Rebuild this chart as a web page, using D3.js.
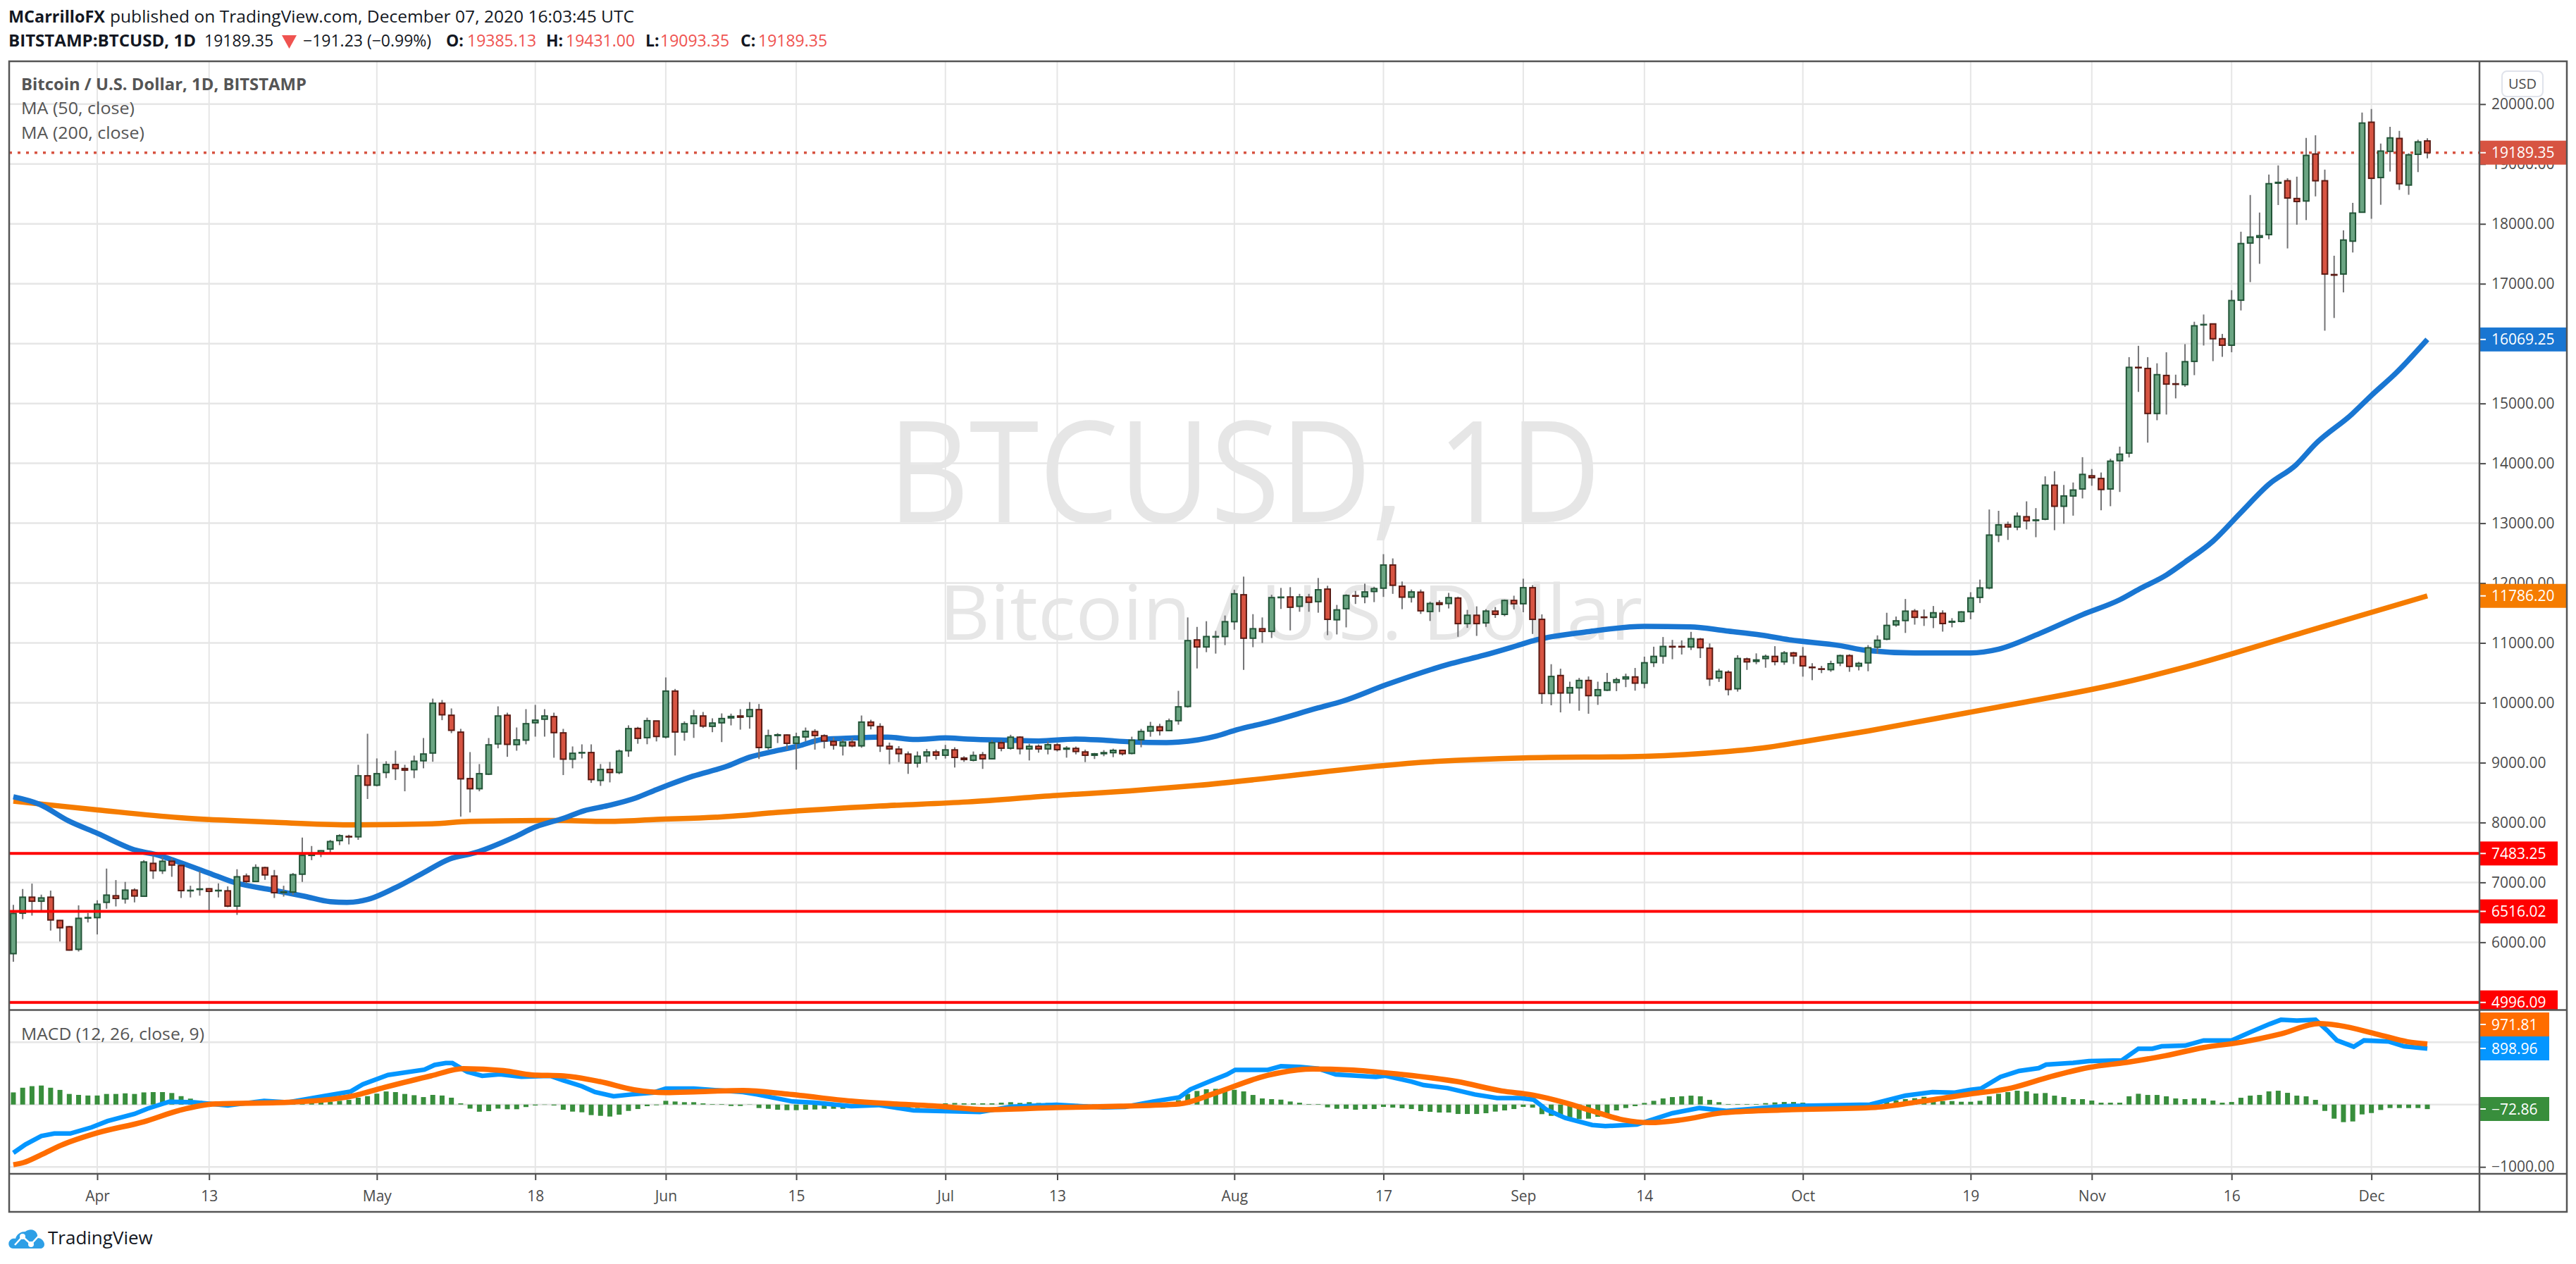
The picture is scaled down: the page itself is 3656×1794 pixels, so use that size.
<!DOCTYPE html>
<html>
<head>
<meta charset="utf-8">
<title>BTCUSD</title>
<script src="https://d3js.org/d3.v7.min.js"></script>
<style>
  html, body { margin: 0; padding: 0; background: #fff; }
  text { font-family: "Open Sans", sans-serif; }
</style>
</head>
<body>
<div id="chart"></div>
<script>
// daily candles, 23 Mar 2020 - 7 Dec 2020
const opens = [
  5810,6486,6753,6686,6753,6365,6259,5882,6405,
  6412,6667,6777,6725,6871,6769,7318,7196,7353,7282,
  6860,6882,6894,6860,6859,6604,7106,7016,7247,7106,
  6831,6839,7137,7451,7498,7557,7698,7768,
  7762,8781,8624,8836,8969,8902,8883,9032,9161,9992,
  9792,9510,8734,8565,8808,9314,9792,9302,9377,9667,
  9726,9769,9498,9059,9165,9169,8703,8887,8836,9200,
  9572,9418,9697,9430,10196,9513,9654,9780,9607,9666,
  9748,9780,9772,9886,9253,9454,9462,9324,9430,9520,
  9450,9355,9281,9344,9281,9678,9603,9273,9226,9143,
  8994,9116,9179,9124,9214,9076,9041,9131,9065,9332,
  9242,9426,9230,9273,9230,9297,9226,9238,9179,9124,
  9151,9167,9206,9155,9383,9528,9599,9536,9701,9939,
  11051,10933,11100,11107,11355,11805,11079,11237,11193,11757,
  11769,11612,11765,11690,11899,11387,11572,11789,11773,11860,
  11915,12302,11947,11765,11848,11525,11670,11659,11750,11323,
  11462,11335,11532,11477,11710,11655,11923,11394,10156,10456,
  10164,10250,10373,10120,10211,10341,10400,10432,10329,10673,
  10779,10941,10941,10933,11063,10913,10416,10511,10235,10732,
  10692,10739,10775,10685,10833,10775,10595,10567,10554,10667,
  10788,10613,10667,10928,11063,11302,11374,11531,11432,11428,
  11495,11347,11360,11522,11761,11919,12802,12977,12937,13108,
  13045,13067,13635,13283,13455,13572,13792,13747,13572,14045,
  14171,15603,15585,14833,15468,15328,15315,15703,16315,16329,
  16081,15973,16725,17680,17775,17820,18680,18720,18423,18382,
  19167,18720,17153,17162,17711,18194,19698,18774,19211,19427,18648,19162,19385.13
];
const highs = [
  6626,6890,6980,6796,6863,6373,6275,6616,6490,
  6702,7231,7039,7008,6902,7372,7451,7431,7412,7302,
  6945,7192,6902,6984,6933,7220,7149,7302,7263,7208,
  6945,7157,7749,7608,7537,7710,7804,7796,
  8965,9483,9071,9024,9200,8965,9118,9412,10070,10047,
  9906,9565,9177,8977,9412,9941,9835,9588,9894,9965,
  9894,9835,9565,9271,9306,9306,8977,9012,9220,9624,
  9599,9752,9700,10424,10232,9690,9882,9847,9741,9823,
  9819,9894,10012,9980,9552,9493,9473,9501,9587,9560,
  9473,9422,9395,9414,9788,9717,9658,9336,9277,9187,
  9187,9230,9218,9297,9257,9108,9187,9179,9375,9375,
  9466,9442,9316,9304,9355,9328,9277,9269,9218,9163,
  9210,9234,9218,9434,9564,9682,9650,9737,10200,11426,
  11268,11363,11201,11458,11888,12108,11481,11426,11805,11919,
  11931,11820,11820,12085,11955,11635,11813,11868,11990,11939,
  12483,12412,12026,11892,11892,11690,11714,11836,11773,11552,
  11611,11564,11600,11726,11789,12073,11966,11477,10645,10570,
  10353,10416,10440,10353,10499,10420,10487,10582,10771,10937,
  11099,11051,11043,11185,11083,10992,10570,10542,10795,10755,
  10826,10806,10946,10865,10851,10932,10662,10617,10703,10806,
  10811,10685,10964,11126,11504,11441,11734,11567,11558,11617,
  11545,11414,11531,11847,12058,13229,13207,13027,13180,13365,
  13252,13783,13869,13639,13680,14103,13905,13847,14076,14279,
  15774,15963,15774,15671,15855,15481,15991,16365,16486,16329,
  16162,16892,17869,18482,18189,18824,18977,18761,18788,19436,
  19481,18905,17468,17892,18351,19860,19918,19342,19621,19553,19180,19405,19431
];
const lows = [
  5674,6388,6447,6530,6196,6012,5860,5846,6330,
  6130,6561,6600,6647,6667,6769,7059,7141,7094,6741,
  6749,6777,6530,6749,6588,6459,6980,7016,7043,6741,
  6765,6792,7008,7372,7423,7498,7623,7635,
  7711,8393,8604,8742,8710,8522,8742,8906,9016,9710,
  9494,8099,8169,8522,8793,9240,9098,9200,9306,9435,
  9435,9083,8793,8906,9071,8663,8612,8671,8808,9098,
  9316,9308,9355,9403,9120,9367,9414,9580,9509,9344,
  9623,9552,9568,9061,9218,9328,9218,8884,9355,9218,
  9238,9218,9120,9257,9249,9556,9179,8974,9010,8813,
  8919,9002,9049,9069,8919,9014,9022,8896,9053,9190,
  9218,9139,9037,9167,9139,9187,9084,9139,9010,9061,
  9108,9092,9120,9139,9257,9434,9454,9524,9634,9919,
  10574,10846,10822,10964,11221,10550,10929,11000,11083,11568,
  11209,11521,11521,11505,11130,11142,11260,11651,11663,11682,
  11769,11820,11564,11675,11485,11367,11517,11576,11103,11252,
  11118,11268,11418,11446,11560,11513,11150,9982,9959,9840,
  9990,9868,9817,9966,10195,10195,10262,10203,10243,10598,
  10654,10728,10807,10882,10748,10282,10349,10124,10187,10550,
  10645,10586,10626,10635,10649,10437,10378,10496,10518,10613,
  10518,10541,10527,10820,11045,11270,11167,11306,11284,11248,
  11189,11261,11342,11396,11667,11896,12684,12721,12883,12896,
  12766,13049,12883,12991,13126,13414,13626,13216,13284,13522,
  14099,15193,14346,14720,14815,15085,15279,15473,15968,15707,
  15779,15856,16554,17027,17333,17743,18315,17590,17986,18063,
  18459,16216,16428,16856,17522,18189,18085,18319,18873,18567,18486,18864,19093.35
];
const closes = [
  6483,6753,6686,6741,6373,6243,5870,6400,6412,
  6635,6788,6733,6871,6773,7341,7196,7353,7290,6863,
  6867,6890,6851,6867,6604,7094,7016,7247,7125,6828,
  6840,7129,7451,7470,7529,7682,7780,7760,
  8781,8624,8816,8969,8902,8875,9024,9145,9992,9800,
  9541,8730,8565,8816,9298,9780,9306,9380,9651,9710,
  9780,9502,9059,9157,9169,8718,8887,8836,9192,9569,
  9407,9701,9438,10196,9513,9650,9780,9611,9662,9737,
  9772,9760,9886,9253,9450,9465,9324,9430,9524,9454,
  9363,9293,9344,9281,9678,9619,9281,9230,9151,8994,
  9108,9179,9124,9214,9088,9053,9120,9065,9332,9242,
  9426,9234,9273,9230,9300,9218,9242,9187,9124,9147,
  9167,9206,9151,9375,9521,9603,9536,9697,9933,11039,
  10933,11107,11107,11355,11820,11079,11237,11193,11757,11765,
  11596,11769,11679,11888,11394,11552,11793,11785,11852,11907,
  12302,11963,11765,11852,11537,11659,11643,11757,11323,11462,
  11323,11532,11477,11710,11655,11923,11394,10156,10440,10164,
  10254,10373,10120,10219,10337,10385,10432,10329,10669,10775,
  10941,10933,10933,11071,10921,10400,10527,10223,10740,10684,
  10716,10775,10689,10833,10784,10617,10590,10563,10653,10788,
  10608,10658,10919,11045,11293,11369,11531,11428,11428,11504,
  11324,11360,11518,11752,11919,12802,12973,12937,13117,13040,
  13054,13635,13283,13455,13554,13815,13761,13563,14036,14153,
  15603,15599,14833,15481,15324,15320,15698,16297,16320,16081,
  15973,16720,17671,17779,17802,18671,18693,18432,18374,19144,
  18720,17162,17144,17730,18180,19684,18761,19216,19436,18671,19153,19369,19189.35
];

// moving averages, read at points along the lines (day = days since 1 Apr)
const ma50Days = [-9,-6.2,-3.1,0,4.2,6.5,8.8,12,14.6,18.9,22.3,25,26.8,29,32,35,37.8,40.5,44.7,47,50,52.2,54.8,57.8,60,61.3,63.9,67.4,70,72.6,75.2,77.8,81.3,83.5,84.8,87.8,91,93.4,97.8,101,105,108,110.8,114.7,116,120.1,122.3,125.3,131,133.6,138.3,145.3,148.8,152.3,154.4,160,166,170.9,174.8,178.6,181.5,187,189.9,195,201,204,208.4,213,217,219.1,222,224,227,230,233,235.9,238,241.9,244,246.7,250];
const ma50Values = [8430,8305,8030,7822,7535,7457,7338,7156,7005,6870,6766,6678,6667,6714,6912,7161,7390,7494,7754,7925,8070,8196,8283,8412,8550,8628,8774,8931,9092,9190,9277,9387,9414,9426,9426,9387,9414,9395,9375,9363,9395,9375,9348,9336,9344,9446,9552,9663,9915,10026,10302,10657,10795,10953,11051,11189,11276,11268,11201,11130,11054,10955,10874,10833,10833,10896,11158,11473,11721,11901,12135,12351,12700,13180,13650,13973,14324,14820,15135,15518,16069.25];
const ma200Days = [-9,0,8.8,18.9,26.9,35.9,40,50,54.4,60,67.4,73,83.9,93.4,102.9,110.8,118,143.5,153,166,174.8,178.6,183,190,197,205.5,217,224,237,250];
const ma200Values = [8357,8212,8082,8004,7962,7978,8019,8035,8019,8051,8098,8169,8275,8345,8452,8530,8620,9020,9079,9106,9185,9244,9350,9530,9730,9973,10324,10595,11190,11786.2];

// MACD pane
const macdDays = [-9,-7.7,-6,-4.6,-2.9,-0.6,1.1,4,5.4,7.7,10.4,14,17.9,20.4,24.3,27.2,28.5,31.2,35.1,36.2,37.4,38.1,39.7,41.3,43.2,45.5,48.6,50,52,53.4,55.4,57.3,59.7,61,64,69.3,70.8,74.6,77,80.9,83.8,87.6,94.7,98.1,102.9,107.9,110.3,113.3,116.1,117.3,119.5,121.2,122.1,125.6,127,129,131,132.9,137.2,138.2,141,142.3,144.9,147.8,150.2,152.7,154.1,155.5,157.5,160.4,161.8,165.2,169,171.9,174.8,181,190.2,194,196.9,199.3,201,202.1,204.2,206.2,208.3,209.1,212,213.7,217.2,219,220.5,221.5,224,226,229,231,233.1,234.3,236,238,239.3,240.3,242.1,243.2,245.9,247.5,250];
const macdValues = [-775,-640,-505,-465,-465,-365,-265,-150,-65,45,35,-15,60,35,135,210,325,475,560,635,665,665,525,460,485,445,460,388,294,200,132,162,192,256,256,200,162,49,30,-26,-8,-94,-120,-34,-4,-45,-38,49,117,245,380,482,557,557,614,603,576,482,444,463,369,312,264,162,105,105,79,-83,-215,-328,-346,-320,-139,-56,-102,-26,0,143,200,192,237,256,444,539,584,641,670,697,708,896,896,934,945,1029,1029,1160,1292,1360,1348,1360,1182,1029,927,1029,1010,934,898.96];
const signalDays = [-9,-7.9,-6,-3.9,0,5,8.9,12.7,20.4,27,30.8,35.8,39.3,43.6,46.7,50,53.9,57.6,61,64.5,69.3,74,80.9,90.9,95.3,102.9,109.8,116.1,119.9,125.6,130.4,134.3,140,145.9,150.7,154,157.5,160.4,163.7,166.6,170,174.4,180.6,190.8,195.6,201,205.4,209.5,213.7,217.8,221.9,226,230.1,234.3,238.4,240.5,244.6,247.9,250];
const signalValues = [-965,-930,-805,-655,-455,-275,-90,10,35,125,275,460,575,545,475,460,369,237,192,207,226,169,56,-34,-83,-49,-26,11,181,470,569,557,482,369,218,154,30,-102,-245,-290,-245,-132,-87,-45,49,170,267,444,595,678,783,915,1001,1133,1299,1269,1129,1007,971.81];
const histValues = [
  195,270,295,305,270,235,170,155,145,145,
  170,170,180,170,195,200,200,185,135,95,60,45,
  35,10,20,15,15,12,5,5,10,20,25,35,45,60,75,
  110,135,175,210,200,170,150,120,155,145,110,20,
  -65,-115,-105,-65,-75,-75,-40,-15,-5,-15,
  -83,-113,-124,-169,-181,-192,-162,-102,-72,-26,-11,
  60,49,38,38,19,8,8,-23,-23,4,
  -56,-68,-83,-90,-90,-83,-79,-68,-68,-68,
  -56,-26,-8,-15,-26,-45,-64,-56,-45,-34,
  20,25,20,20,20,20,30,38,26,38,
  26,26,20,15,10,5,5,5,-5,0,
  10,20,40,20,40,70,170,218,245,252,
  245,237,211,154,98,87,79,49,30,8,
  8,-45,-68,-68,-83,-72,-72,-38,-49,-60,
  -72,-105,-117,-128,-128,-151,-151,-151,-139,-113,
  -94,-72,-38,-49,-154,-181,-207,-222,-233,-226,
  -196,-169,-94,-56,-26,26,60,98,120,132,
  143,132,75,38,8,8,8,8,23,34,
  41,41,30,19,8,8,15,8,8,30,
  45,68,68,87,102,124,87,56,56,45,
  45,60,132,173,200,222,211,177,185,143,
  120,87,87,64,30,30,30,132,173,154,
  154,132,98,87,98,98,64,30,41,109,
  143,154,211,222,188,143,132,75,-102,-226,
  -282,-271,-158,-136,-87,-56,-56,-56,-56,-72.86
];

// axes
const priceTicks = [20000,19000,18000,17000,16000,15000,14000,13000,12000,11000,10000,9000,8000,7000,6000];
const macdTicks = [1000,0,-1000];
const timeTickDays = [0,12,30,47,61,75,91,103,122,138,153,166,183,201,214,229,244];
const timeTickLabels = ["Apr","13","May","18","Jun","15","Jul","13","Aug","17","Sep","14","Oct","19","Nov","16","Dec"];

// horizontal levels drawn by the author
const levels = [7483.25, 6516.02, 4996.09];
const lastPrice = 19189.35;

const width = 3656, height = 1794;
const left = 13, axisX = 3519, right = 3643;
const paneTop = 87, paneBottom = 1433.5, timeY = 1666, bottom = 1720;

const x = d3.scaleLinear().domain([0, 250]).range([138, 3445]);
const y = d3.scaleLinear().domain([20000, 5000]).range([147.8, 147.8 + 15000 * 0.08497]);
const yMacd = d3.scaleLinear().domain([1000, -1000]).range([1479.2, 1656.2]);

const svg = d3.select("#chart").append("svg")
  .attr("width", width).attr("height", height)
  .attr("viewBox", `0 0 ${width} ${height}`)
  .style("display", "block");

const defs = svg.append("defs");
defs.append("clipPath").attr("id", "mainClip").append("rect")
  .attr("x", left).attr("y", paneTop).attr("width", right - left).attr("height", paneBottom - paneTop);
defs.append("clipPath").attr("id", "macdClip").append("rect")
  .attr("x", left).attr("y", paneBottom).attr("width", axisX - left).attr("height", timeY - paneBottom);

// header
const dark = "#131722", red = "#ef5350";
function label(g, px, py, txt, size, color, weight, fitWidth) {
  const t = g.append("text").attr("x", px).attr("y", py).text(txt)
    .style("font-size", size + "px").attr("fill", color).style("font-weight", weight || 400);
  if (fitWidth) t.attr("textLength", fitWidth).attr("lengthAdjust", "spacingAndGlyphs");
  return t;
}
label(svg, 12, 32, "MCarrilloFX", 23, dark, 700, 137);
label(svg, 156, 32, "published on TradingView.com, December 07, 2020 16:03:45 UTC", 23, dark, 400, 744);
label(svg, 12, 66, "BITSTAMP:BTCUSD, 1D", 23, dark, 700, 266);
label(svg, 290, 66, "19189.35", 23, dark);
svg.append("path").attr("d", "M400,50L421,50L410.5,69Z").attr("fill", red);
label(svg, 430, 66, "\u2212191.23 (\u22120.99%)", 23, dark);
label(svg, 633, 66, "O:", 23, dark, 700);
label(svg, 663, 66, "19385.13", 23, red);
label(svg, 775, 66, "H:", 23, dark, 700);
label(svg, 803, 66, "19431.00", 23, red);
label(svg, 916, 66, "L:", 23, dark, 700);
label(svg, 937, 66, "19093.35", 23, red);
label(svg, 1051, 66, "C:", 23, dark, 700);
label(svg, 1076, 66, "19189.35", 23, red);

// watermark
label(svg, 1260, 741, "BTCUSD, 1D", 200, "#e6e6e6", 400, 1012);
label(svg, 1333, 908, "Bitcoin / U.S. Dollar", 108, "#e6e6e6", 400, 998);

// grid
const gridColor = "#e6e6e6";
const main = svg.append("g").attr("clip-path", "url(#mainClip)");
const macdPane = svg.append("g").attr("clip-path", "url(#macdClip)");

[[main, paneTop, paneBottom], [macdPane, paneBottom, timeY]].forEach(([g, y0, y1]) => {
  g.selectAll(".vgrid").data(timeTickDays).enter().append("line")
    .attr("x1", d => x(d)).attr("x2", d => x(d)).attr("y1", y0).attr("y2", y1)
    .attr("stroke", gridColor).attr("stroke-width", 2);
});
main.selectAll(".hgrid").data(priceTicks).enter().append("line")
  .attr("x1", left).attr("x2", axisX).attr("y1", d => y(d)).attr("y2", d => y(d))
  .attr("stroke", gridColor).attr("stroke-width", 2.5);
macdPane.selectAll(".hgrid").data(macdTicks).enter().append("line")
  .attr("x1", left).attr("x2", axisX).attr("y1", d => yMacd(d)).attr("y2", d => yMacd(d))
  .attr("stroke", gridColor).attr("stroke-width", 2.5);

// moving averages sit under the candles
const lineFor = (days, values, yScale, curve) => d3.line()
  .curve(curve)
  .x((d, i) => x(days[i])).y((d, i) => yScale(values[i]))(values);

main.append("path").attr("d", lineFor(ma200Days, ma200Values, y, d3.curveMonotoneX))
  .attr("fill", "none").attr("stroke", "#f57c00").attr("stroke-width", 7.5);
main.append("path").attr("d", lineFor(ma50Days, ma50Values, y, d3.curveMonotoneX))
  .attr("fill", "none").attr("stroke", "#1976d2").attr("stroke-width", 7.5);

// last price dots
main.append("line").attr("x1", left).attr("x2", axisX)
  .attr("y1", y(lastPrice)).attr("y2", y(lastPrice))
  .attr("stroke", "#d75442").attr("stroke-width", 3.5).attr("stroke-dasharray", "4 8");

// candles
const candles = main.selectAll(".candle").data(closes).enter().append("g");
const dayOf = i => i - 9;
candles.append("line")
  .attr("x1", (d, i) => x(dayOf(i))).attr("x2", (d, i) => x(dayOf(i)))
  .attr("y1", (d, i) => y(highs[i])).attr("y2", (d, i) => y(lows[i]))
  .attr("stroke", "#737375").attr("stroke-width", 2);
candles.append("rect")
  .attr("x", (d, i) => x(dayOf(i)) - 3.9).attr("width", 7.8)
  .attr("y", (d, i) => y(Math.max(opens[i], d)))
  .attr("height", (d, i) => Math.max(Math.abs(y(opens[i]) - y(d)), 0.6))
  .attr("fill", (d, i) => d >= opens[i] ? "#6ba583" : "#d75442")
  .attr("stroke", (d, i) => d >= opens[i] ? "#225437" : "#5b1a13")
  .attr("stroke-width", 2);

// support / resistance lines
main.selectAll(".level").data(levels).enter().append("line")
  .attr("x1", left).attr("x2", axisX).attr("y1", d => y(d)).attr("y2", d => y(d))
  .attr("stroke", "#ff0000").attr("stroke-width", 4);

// MACD
macdPane.selectAll(".hist").data(histValues).enter().append("rect")
  .attr("x", (d, i) => x(dayOf(i)) - 3.5).attr("width", 7)
  .attr("y", d => yMacd(Math.max(d, 0)))
  .attr("height", d => Math.abs(yMacd(d) - yMacd(0)))
  .attr("fill", "#388e3c");
macdPane.append("path").attr("d", lineFor(macdDays, macdValues, yMacd, d3.curveLinear))
  .attr("fill", "none").attr("stroke", "#0496ff").attr("stroke-width", 6.5);
macdPane.append("path").attr("d", lineFor(signalDays, signalValues, yMacd, d3.curveMonotoneX))
  .attr("fill", "none").attr("stroke", "#ff6d00").attr("stroke-width", 7.5);

// legends
const legendColor = "#555";
label(svg, 30, 128, "Bitcoin / U.S. Dollar, 1D, BITSTAMP", 24, legendColor, 700, 405);
label(svg, 30, 162, "MA (50, close)", 24, legendColor, 400, 161);
label(svg, 30, 197, "MA (200, close)", 24, legendColor, 400, 175);
label(svg, 30, 1476, "MACD (12, 26, close, 9)", 24, legendColor, 400, 260);

// price axes
const axisColor = "#4c4c4c";
function styleAxis(g) {
  g.select(".domain").remove();
  g.selectAll("line").attr("stroke", axisColor).attr("stroke-width", 2);
  g.selectAll("text").attr("fill", axisColor).style("font-size", "21px");
}
const fmt = d => (d < 0 ? "\u2212" : "") + Math.abs(d).toFixed(2);
// labels that sit fully behind a value tag are left out, the tick stays
svg.append("g")
  .attr("transform", `translate(${axisX},0)`)
  .call(d3.axisRight(y).tickValues(priceTicks).tickSize(9).tickPadding(8)
    .tickFormat(d => d === 16000 ? "" : fmt(d)))
  .call(styleAxis);

svg.append("g").attr("transform", `translate(${axisX},0)`)
  .call(d3.axisRight(yMacd).tickValues(macdTicks).tickSize(9).tickPadding(8)
    .tickFormat(d => d === -1000 ? fmt(d) : ""))
  .call(styleAxis);

// time axis
svg.append("g").attr("transform", `translate(0,${timeY})`)
  .call(d3.axisBottom(x).tickValues(timeTickDays).tickSize(9)
    .tickFormat((d, i) => timeTickLabels[i]))
  .call(styleAxis)
  .call(g => g.selectAll("text").attr("y", 31).attr("dy", "0.36em"));

// value labels on the right
const tags = [
  { v: lastPrice, color: "#d75442", end: right, text: "19189.35" },
  { v: 16069.25, color: "#1976d2", end: right, text: "16069.25" },
  { v: 11786.2, color: "#f57c00", end: right, text: "11786.20" },
  { v: 7483.25, color: "#ff0000", end: 3630, text: "7483.25" },
  { v: 6516.02, color: "#ff0000", end: 3630, text: "6516.02" },
  { v: 4996.09, color: "#ff0000", end: 3630, text: "4996.09" }
];
const macdTags = [
  { cy: 1454, color: "#ff6d00", text: "971.81" },
  { cy: 1488, color: "#0496ff", text: "898.96" },
  { cy: 1574, color: "#388e3c", text: "\u221272.86" }
];
const tagLayer = svg.append("g").attr("clip-path", "url(#mainClip)");
tags.forEach(t => {
  const cy = y(t.v);
  tagLayer.append("rect").attr("x", axisX).attr("y", cy - 17).attr("width", t.end - axisX).attr("height", 34).attr("fill", t.color);
  tagLayer.append("line").attr("x1", axisX).attr("x2", axisX + 9).attr("y1", cy).attr("y2", cy).attr("stroke", "#fff").attr("stroke-width", 2);
  tagLayer.append("text").attr("x", axisX + 17).attr("y", cy).attr("dy", "0.36em").text(t.text)
    .attr("fill", "#fff").style("font-size", "21px");
});
macdTags.forEach(t => {
  svg.append("rect").attr("x", axisX).attr("y", t.cy - 17).attr("width", 99).attr("height", 34).attr("fill", t.color);
  svg.append("line").attr("x1", axisX).attr("x2", axisX + 9).attr("y1", t.cy).attr("y2", t.cy).attr("stroke", "#fff").attr("stroke-width", 2);
  svg.append("text").attr("x", axisX + 17).attr("y", t.cy).attr("dy", "0.36em").text(t.text)
    .attr("fill", "#fff").style("font-size", "21px");
});

// USD button
svg.append("rect").attr("x", 3551).attr("y", 101).attr("width", 58).attr("height", 36).attr("rx", 7)
  .attr("fill", "#fff").attr("stroke", "#e0e3eb").attr("stroke-width", 2);
svg.append("text").attr("x", 3580).attr("y", 119).attr("dy", "0.36em").attr("text-anchor", "middle")
  .text("USD").attr("fill", axisColor).style("font-size", "20px");

// frame
const frameColor = "#555";
const frame = svg.append("g").attr("fill", "none").attr("stroke", frameColor).attr("stroke-width", 2.5);
frame.append("rect").attr("x", left).attr("y", paneTop).attr("width", right - left).attr("height", bottom - paneTop);
frame.append("line").attr("x1", axisX).attr("x2", axisX).attr("y1", paneTop).attr("y2", bottom);
frame.append("line").attr("x1", left).attr("x2", right).attr("y1", paneBottom).attr("y2", paneBottom);
frame.append("line").attr("x1", left).attr("x2", right).attr("y1", timeY).attr("y2", timeY);

// logo
const logo = svg.append("g").attr("transform", "translate(12,1743)");
logo.append("path")
  .attr("d", "M7,29 C1,29 -1,23 1,19 C3,15 7,14 10,15 C12,8 18,5 24,5 C29,1 37,1 40,7 C42,11 41,13 41,14 C47,14 51,19 51,23 C51,27 48,29 45,29 Z")
  .attr("fill", "#2e9fe6");
logo.append("path").attr("d", "M9,24 L20,12 L32,23 L44,10")
  .attr("fill", "none").attr("stroke", "#fff").attr("stroke-width", 2.5);
logo.selectAll("circle").data([[20, 12], [32, 23]]).enter().append("circle")
  .attr("cx", d => d[0]).attr("cy", d => d[1]).attr("r", 4).attr("fill", "#fff");
label(svg, 68, 1766, "TradingView", 26, "#131722");
</script>
</body>
</html>
